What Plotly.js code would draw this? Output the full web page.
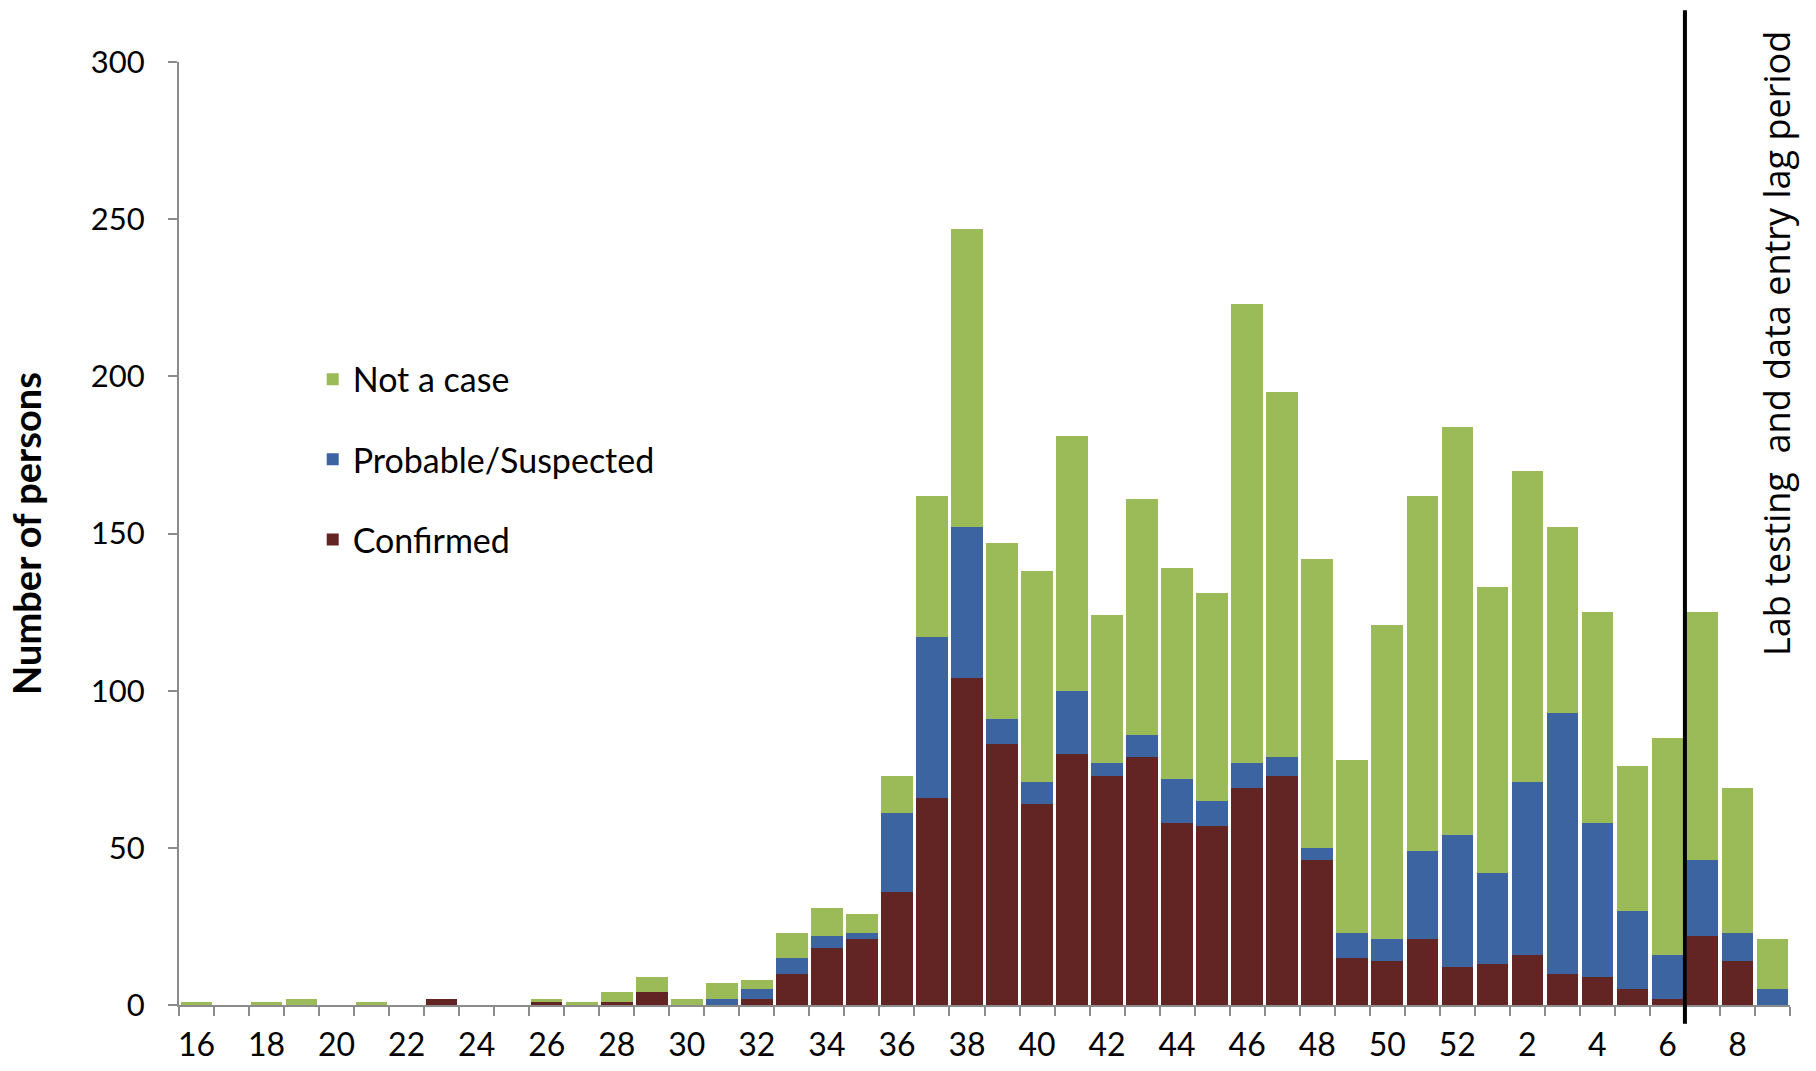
<!DOCTYPE html>
<html>
<head>
<meta charset="utf-8">
<script src="https://cdn.plot.ly/plotly-3.0.1.min.js"></script>
<style>
  html, body { margin: 0; padding: 0; background: #ffffff; }
  #chart { width: 1816px; height: 1071px; }
</style>
</head>
<body>
<div id="chart"></div>
<script>
// Epidemiological weeks (16..52, then 1..9 of the following year)
const weeks = ["16","17","18","19","20","21","22","23","24","25","26","27","28","29","30",
  "31","32","33","34","35","36","37","38","39","40","41","42","43","44","45","46","47",
  "48","49","50","51","52","1","2","3","4","5","6","7","8","9"];

// Tick labels shown under the axis (every other week)
const tickLabels = ["16","","18","","20","","22","","24","","26","","28","","30",
  "","32","","34","","36","","38","","40","","42","","44","","46","",
  "48","","50","","52","","2","","4","","6","","8",""];

// Counts per week
const confirmed = [0,0,0,0,0,0,0,2,0,0,1,0,1,4,0,
  0,2,10,18,21,36,66,104,83,64,80,73,79,58,57,69,73,
  46,15,14,21,12,13,16,10,9,5,2,22,14,0];
const probable = [0,0,0,0,0,0,0,0,0,0,0,0,0,0,0,
  2,3,5,4,2,25,51,48,8,7,20,4,7,14,8,8,6,
  4,8,7,28,42,29,55,83,49,25,14,24,9,5];
const notACase = [1,0,1,2,0,1,0,0,0,0,1,1,3,5,2,
  5,3,8,9,6,12,45,95,56,67,81,47,75,67,66,146,116,
  92,55,100,113,130,91,99,59,67,46,69,79,46,16];

const seriesNames = ["Confirmed", "Probable/Suspected", "Not a case"];
const seriesColors = ["#632523", "#3B64A0", "#9BBB59"];
const lagStartWeek = "7";
const lagText = "Lab testing  and data entry lag period";
const yTitle = "Number of persons";

const seriesValues = [confirmed, probable, notACase];
const traces = seriesValues.map((vals, i) => ({
  type: "bar",
  x: weeks,
  y: vals,
  name: seriesNames[i],
  legendgroup: "g" + (seriesValues.length - i),
  legendrank: seriesValues.length - i,
  marker: { color: seriesColors[i], line: { width: 0 } },
  hoverinfo: "x+y+name"
}));

const lagX = weeks.indexOf(lagStartWeek) - 0.5;

const layout = {
  width: 1816,
  height: 1071,
  margin: { l: 179, r: 26, t: 62, b: 66 },
  paper_bgcolor: "#ffffff",
  plot_bgcolor: "#ffffff",
  barmode: "stack",
  bargap: 0.1,
  showlegend: true,
  font: { family: "Lato, 'Open Sans', sans-serif", color: "#000000" },
  legend: {
    x: 0.083, y: 0.694, xanchor: "left", yanchor: "top",
    traceorder: "grouped",
    tracegroupgap: 33,
    font: { size: 34, family: "Lato, sans-serif", color: "#000000" },
    bgcolor: "rgba(0,0,0,0)"
  },
  xaxis: {
    type: "category",
    categoryorder: "array",
    categoryarray: weeks,
    tickmode: "array",
    tickvals: weeks,
    ticktext: tickLabels,
    tickson: "boundaries",
    tickangle: 0,
    ticks: "outside",
    ticklen: 9,
    tickwidth: 2,
    tickcolor: "#8c8c8c",
    showline: true,
    linecolor: "#8c8c8c",
    linewidth: 2,
    showgrid: false,
    zeroline: false,
    ticklabelstandoff: 11,
    tickfont: { size: 32, family: "Lato, sans-serif", color: "#000000" },
    range: [-0.5, weeks.length - 0.5]
  },
  yaxis: {
    range: [0, 300],
    tickmode: "linear",
    tick0: 0,
    dtick: 50,
    ticks: "outside",
    ticklen: 9,
    tickwidth: 2,
    tickcolor: "#8c8c8c",
    showline: true,
    linecolor: "#8c8c8c",
    linewidth: 2,
    showgrid: false,
    zeroline: false,
    ticklabelstandoff: 17,
    tickfont: { size: 31, family: "Lato, sans-serif", color: "#000000" },
    title: { text: yTitle, font: { size: 38, family: "Lato, sans-serif", weight: "bold", color: "#000000" }, standoff: 38 }
  },
  shapes: [{
    type: "line",
    xref: "x", yref: "paper",
    x0: lagX, x1: lagX,
    y0: -0.02, y1: 1.055,
    line: { color: "#000000", width: 4 }
  }],
  annotations: [{
    xref: "paper", yref: "paper",
    x: 0.992, y: 0.701,
    xanchor: "center", yanchor: "middle",
    text: lagText,
    textangle: -90,
    showarrow: false,
    font: { size: 36, family: "'Open Sans', sans-serif", color: "#000000" }
  }]
};

Plotly.newPlot("chart", traces, layout, { displayModeBar: false, responsive: false });
</script>
</body>
</html>
